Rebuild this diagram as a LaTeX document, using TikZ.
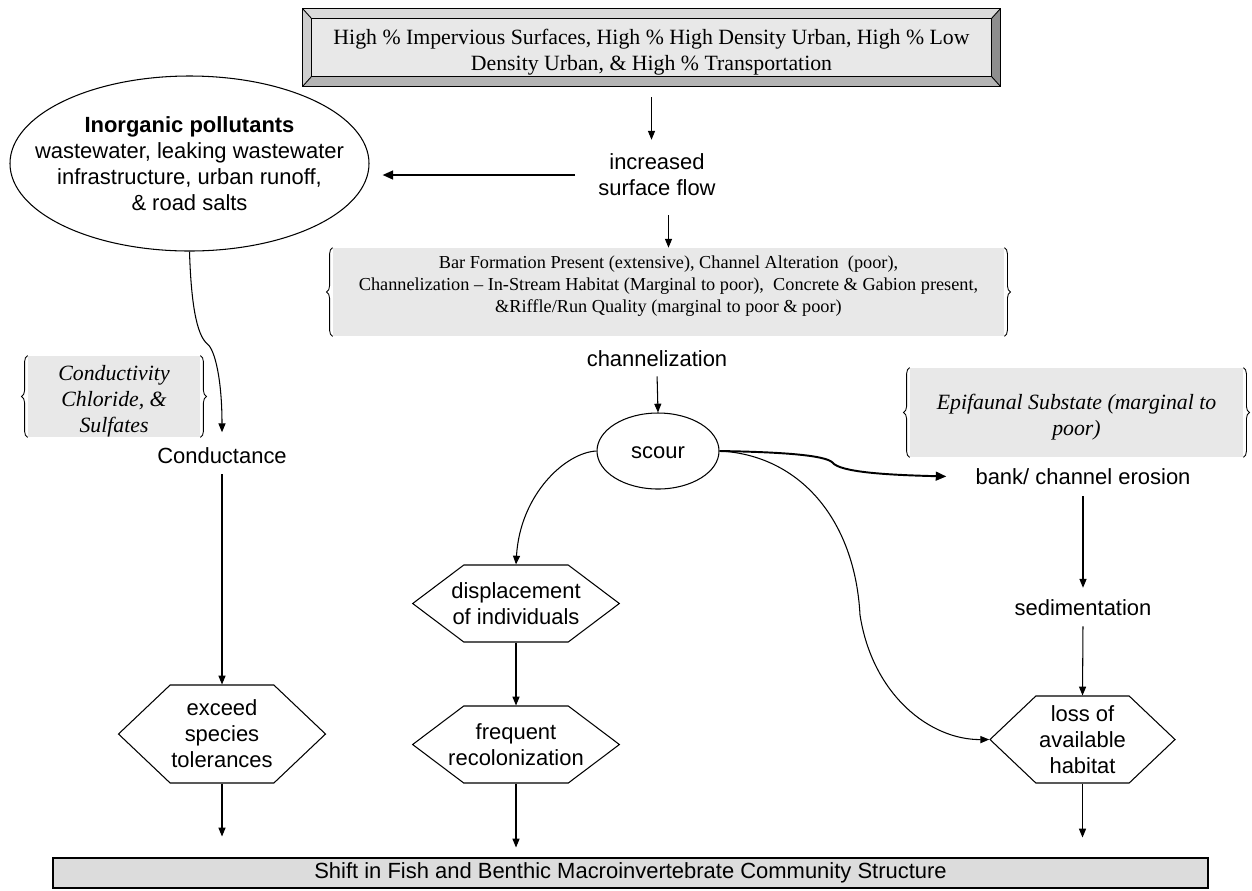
\documentclass[tikz,border=0pt]{standalone}
\usepackage{fontspec}
\setmainfont{Liberation Serif}
\setsansfont{Liberation Sans}
\usetikzlibrary{arrows.meta, positioning, calc, shapes.geometric, shapes.symbols, decorations.pathreplacing, backgrounds}
\definecolor{boxgray}{HTML}{E8E8E8}
\definecolor{shiftgray}{HTML}{DCDCDC}
\definecolor{bevtop}{HTML}{DADADA}
\definecolor{bevleft}{HTML}{CFCFCF}
\definecolor{bevbottom}{HTML}{B4B4B4}
\definecolor{bevright}{HTML}{8E8E8E}

\tikzset{
  arr/.style={-{Triangle[length=5pt,width=4pt]}, line width=0.6pt},
  thkarr/.style={-{Triangle[length=6pt,width=5pt]}, line width=1.1pt},
  lbl/.style={font=\sffamily\fontsize{12.5}{14.8}\selectfont, align=center},
  hexa/.style={lbl, draw, line width=0.6pt, shape=signal, signal to=east and west, signal from=nowhere, inner sep=0pt},
  bracebox/.style={fill=boxgray, align=center, inner sep=0pt},
  brc/.style={decorate, decoration={brace, amplitude=3.5pt}, line width=0.5pt},
}

\begin{document}
\begin{tikzpicture}
\useasboundingbox (0,0) rectangle (25.04,-17.8);

% top box, bevelled
\node[font=\rmfamily\fontsize{12.4}{14.8}\selectfont, align=center, text height=29pt, minimum width=13.94cm, minimum height=1.54cm, inner sep=0pt] (land) at (13.03,-0.95)
  {High \% Impervious Surfaces, High \% High Density Urban, High \% Low\\Density Urban, \& High \% Transportation};
\begin{scope}[on background layer]
  \fill[boxgray] ($(land.north west)+(0.18,-0.2)$) rectangle ($(land.south east)+(-0.18,0.2)$);
  \fill[bevtop] (land.north west) -- (land.north east) -- ($(land.north east)+(-0.18,-0.2)$) -- ($(land.north west)+(0.18,-0.2)$) -- cycle;
  \fill[bevbottom] (land.south west) -- (land.south east) -- ($(land.south east)+(-0.18,0.2)$) -- ($(land.south west)+(0.18,0.2)$) -- cycle;
  \fill[bevleft] (land.north west) -- (land.south west) -- ($(land.south west)+(0.18,0.2)$) -- ($(land.north west)+(0.18,-0.2)$) -- cycle;
  \fill[bevright] (land.north east) -- (land.south east) -- ($(land.south east)+(-0.18,0.2)$) -- ($(land.north east)+(-0.18,-0.2)$) -- cycle;
  \draw[line width=0.5pt] (land.north west) rectangle (land.south east);
  \draw[line width=0.5pt] ($(land.north west)+(0.18,-0.2)$) rectangle ($(land.south east)+(-0.18,0.2)$);
  \draw[line width=0.5pt] (land.north west) -- ++(0.18,-0.2) (land.north east) -- ++(-0.18,-0.2)
    (land.south west) -- ++(0.18,0.2) (land.south east) -- ++(-0.18,0.2);
\end{scope}

\node[lbl] (flow) at (13.14,-3.5) {increased\\surface flow};
\node[lbl, draw, line width=0.6pt, ellipse, minimum width=7.18cm, minimum height=3.5cm, inner xsep=-0.6cm, inner ysep=0pt] (poll) at (3.79,-3.27)
  {\textbf{Inorganic pollutants}\\wastewater, leaking wastewater\\infrastructure, urban runoff,\\\& road salts};

% habitat scores
\node[bracebox, font=\rmfamily\fontsize{10.4}{12.5}\selectfont, text depth=9pt, minimum width=13.42cm, minimum height=1.76cm] (bar) at (13.37,-5.84)
  {Bar Formation Present (extensive), Channel Alteration\ \ (poor),\\Channelization -- In-Stream Habitat (Marginal to poor),\ \ Concrete \& Gabion present,\\\&Riffle/Run Quality (marginal to poor \& poor)};
\draw[brc] (bar.south west) -- (bar.north west);
\draw[brc] (bar.north east) -- (bar.south east);

\node[lbl] (chan) at (13.14,-7.18) {channelization};
\node[lbl, draw, line width=0.6pt, ellipse, minimum width=2.44cm, minimum height=1.52cm, inner sep=0pt, text height=9pt] (scour) at (13.16,-9.02) {scour};

\node[bracebox, font=\rmfamily\itshape\fontsize{12.4}{14.8}\selectfont, text height=43.5pt, minimum width=3.44cm, minimum height=1.54cm] (cond) at (2.28,-7.93)
  {Conductivity\\Chloride, \&\\Sulfates};
\draw[brc] (cond.south west) -- (cond.north west);
\draw[brc] (cond.north east) -- (cond.south east);
\node[lbl] (cnd) at (4.44,-9.12) {Conductance};

\node[bracebox, font=\rmfamily\itshape\fontsize{12.4}{14.8}\selectfont, text height=29pt, minimum width=6.66cm, minimum height=1.78cm] (epi) at (21.53,-8.25)
  {Epifaunal Substate (marginal to\\poor)};
\draw[brc] (epi.south west) -- (epi.north west);
\draw[brc] (epi.north east) -- (epi.south east);
\node[lbl] (bank) at (21.66,-9.54) {bank/ channel erosion};
\node[lbl] (sed) at (21.66,-12.16) {sedimentation};

% effects
\node[hexa, signal pointer angle=74, inner xsep=-0.25cm, minimum height=1.54cm] (disp) at (10.32,-12.07) {displacement\\of individuals};
\node[hexa, signal pointer angle=74, inner xsep=-0.31cm, minimum height=1.54cm] (freq) at (10.32,-14.89) {frequent\\recolonization};
\node[hexa, signal pointer angle=87, minimum width=4.14cm, minimum height=1.96cm] (exceed) at (4.44,-14.68) {exceed\\species\\tolerances};
\node[hexa, signal pointer angle=87, minimum width=3.7cm, minimum height=1.74cm] (loss) at (21.65,-14.79) {loss of\\available\\habitat};

\node[lbl, draw, line width=0.6pt, fill=shiftgray, minimum width=23.1cm, minimum height=0.6cm, inner sep=0pt] (shift) at (12.61,-17.46)
  {Shift in Fish and Benthic Macroinvertebrate Community Structure};

% arrows
\draw[arr, shorten <=0.22cm, shorten >=0.16cm] (land.south) -- (land.south |- flow.north);
\draw[thkarr, shorten <=0.34cm, shorten >=0.26cm] (flow.west) -- (flow.west -| poll.east);
\draw[arr, shorten <=0.26cm] (flow.south -| bar.north) -- (bar.north);
\draw[arr, shorten <=0.06cm] (chan.south) -- (scour.north);
\draw[arr, shorten >=0.19cm] (poll.south) .. controls (3.82,-6.0) and (3.92,-6.7) .. (4.15,-6.88)
  .. controls (4.3,-7.0) and (4.44,-7.6) .. (cnd.north);
\draw[arr, shorten <=0.08cm] (cnd.south) -- (exceed.north);
\draw[arr, shorten >=0.42cm] (exceed.south) -- (exceed.south |- shift.north);
\draw[arr] (scour.west) .. controls (11.3,-9.05) and (10.4,-9.9) .. (disp.north);
\draw[arr] (disp.south) -- (freq.north);
\draw[arr, shorten >=0.2cm] (freq.south) -- (freq.south |- shift.north);
\draw[thkarr, shorten >=0.46cm] (scour.east) .. controls (15.6,-9.04) and (16.5,-9.1) .. (16.65,-9.25)
  .. controls (16.8,-9.45) and (17.8,-9.5) .. (bank.west);
\draw[arr] (scour.east) .. controls (16.0,-9.1) and (17.1,-10.4) .. (17.2,-12.3)
  .. controls (17.45,-13.9) and (18.6,-14.8) .. (loss.west);
\draw[arr, shorten <=0.1cm, shorten >=0.12cm] (bank.south) -- (sed.north);
\draw[arr, shorten <=0.08cm] (sed.south) -- (loss.north);
\draw[arr, shorten >=0.4cm] (loss.south) -- (loss.south |- shift.north);
\end{tikzpicture}
\end{document}
